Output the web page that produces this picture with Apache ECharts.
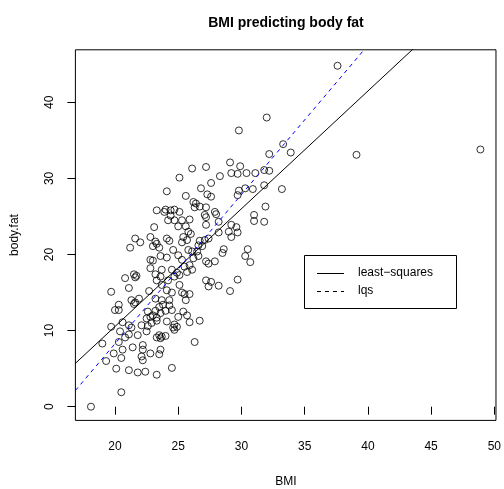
<!DOCTYPE html>
<html><head><meta charset="utf-8">
<script src="https://cdn.jsdelivr.net/npm/echarts@6/dist/echarts.min.js"></script>
<style>html,body{margin:0;padding:0;background:#fff}#c{width:504px;height:489px}</style>
</head><body><div id="c"></div>
<script>
// BMI values and matching body fat values
const bmi = [
29.8,26.1,27.2,29.1,29.9,
37.6,32.0,33.3,32.2,33.9,31.8,32.2,31.1,
30.9,31.8,33.2,31.9,31.0,31.0,31.8,30.7,
39.1,48.9,
23.3,23.9,23.1,21.6,22.0,21.2,22.8,23.2,23.0,23.3,23.5,23.6,22.8,23.0,22.8,23.7,23.2,23.6,23.3,21.5,21.7,21.6,20.8,23.7,
25.1,26.8,27.3,27.6,25.6,28.3,29.2,29.7,30.4,27.6,29.8,30.3,29.7,24.1,
26.2,26.4,26.7,26.3,27.2,27.9,28.0,27.1,27.2,
24.0,24.4,24.7,25.1,
24.4,24.2,24.7,25.3,25.9,27.2,28.2,
29.2,29.6,25.6,25.8,26.0,25.0,28.2,29.0,29.7,29.2,
24.1,24.3,25.4,25.7,25.3,26.7,27.1,27.4,26.6,26.9,
28.6,28.5,30.5,30.3,
24.6,25.8,26.1,26.5,24.1,25.0,25.3,26.2,26.6,
27.2,27.4,27.9,25.5,25.9,26.1,25.7,
24.5,24.9,25.1,24.7,24.2,27.2,27.6,29.7,25.1,
19.7,21.1,22.7,21.3,21.6,21.5,21.9,23.2,23.7,20.0,20.3,20.3,22.6,23.2,23.5,23.8,23.6,24.0,22.5,22.8,23.0,23.3,23.3,20.6,19.7,21.1,21.3,22.1,22.6,22.9,23.5,23.7,23.3,23.6,20.4,21.1,20.8,21.8,22.5,19.0,20.3,21.4,22.2,22.2,22.8,23.5,23.6,19.9,20.6,20.5,22.1,22.2,19.3,20.1,21.1,21.8,22.4,23.3,20.5,18.1,
27.4,28.2,29.1,24.1,24.5,25.3,25.5,25.9,25.6,24.3,24.3,24.5,25.4,25.7,25.9,25.0,26.7,24.1,24.7,24.9,24.6,24.7,24.0,26.3,24.5
];
const bodyFat = [
36.3,31.3,31.5,32.1,31.6,
44.8,38.0,34.5,33.2,33.4,31.1,31.0,30.7,
28.6,29.1,28.6,26.3,25.2,24.4,24.3,19.0,
33.1,33.8,
25.8,25.6,23.6,22.1,21.6,20.9,22.3,21.7,21.1,21.4,20.9,19.8,19.3,19.2,18.2,18.0,17.4,17.1,16.6,17.4,17.2,17.0,16.9,16.0,
30.1,28.7,27.9,27.6,27.7,30.3,30.7,30.6,30.7,29.4,28.4,28.7,27.8,28.3,
26.9,26.7,26.3,26.2,26.2,25.6,25.3,25.2,24.9,
25.9,25.8,25.9,25.6,
25.1,24.5,24.5,24.5,24.6,23.9,24.3,
23.9,23.6,23.7,23.0,22.7,23.7,22.9,23.0,22.9,22.3,
22.1,21.8,22.3,21.9,21.6,21.8,21.9,22.1,21.2,21.1,
20.7,20.2,20.7,19.8,
20.6,20.6,20.4,20.4,19.6,19.9,19.3,19.5,19.8,
19.1,18.8,19.1,18.4,18.6,18.0,17.7,
18.0,17.6,17.3,17.1,16.6,16.6,16.4,16.7,16.0,
15.1,15.6,15.2,14.0,13.7,13.5,14.2,14.2,14.0,12.7,12.7,13.4,12.5,12.6,13.1,13.4,12.3,12.6,11.6,11.8,12.0,11.7,11.3,11.1,10.5,10.7,10.4,10.7,10.6,11.0,9.4,9.2,9.1,9.0,9.9,9.5,9.1,9.4,9.9,8.3,8.5,7.8,8.1,7.5,7.0,6.9,7.5,7.0,7.5,6.4,6.6,6.1,6.0,5.0,4.8,4.5,4.6,4.2,1.9,0.0,
15.8,15.9,15.2,15.3,15.0,15.0,14.8,14.8,14.0,14.0,13.3,12.7,12.5,12.0,11.1,11.8,11.3,11.2,10.8,10.5,10.4,10.1,9.3,8.5,5.1
];
const xTicks = [20, 25, 30, 35, 40, 45, 50];
const yTicks = [0, 10, 20, 30, 40];
// fitted lines: [intercept, slope]
const leastSquares = [-20.40, 1.547];
const lqsFit = [-30.95, 1.961];

const xMin = 16.87, xMax = 50.13, yMin = -1.80, yMax = 46.90;
const pts = bmi.map((b, i) => [b, bodyFat[i]]);
const lineOf = c => [[xMin, c[0] + c[1] * xMin], [xMax, c[0] + c[1] * xMax]];

const FONT = 'Liberation Sans, Arial, Helvetica, sans-serif';
const chart = echarts.init(document.getElementById('c'), null, {renderer: 'canvas'});
chart.setOption({
  animation: false,
  backgroundColor: '#fff',
  grid: {left: 75.4, right: 7.6, top: 49.8, bottom: 68.6, show: true,
         borderColor: '#000', borderWidth: 1, backgroundColor: 'transparent'},
  xAxis: {type: 'value', min: xMin, max: xMax,
    axisLine: {show: false}, splitLine: {show: false},
    axisTick: {show: true, inside: false, length: 8, customValues: xTicks, lineStyle: {color: '#000', width: 1}},
    axisLabel: {customValues: xTicks, margin: 20, color: '#000', fontSize: 12, fontFamily: FONT}},
  yAxis: {type: 'value', min: yMin, max: yMax,
    axisLine: {show: false}, splitLine: {show: false},
    axisTick: {show: true, inside: false, length: 8, customValues: yTicks, lineStyle: {color: '#000', width: 1}},
    axisLabel: {customValues: yTicks, margin: 20, rotate: 90, color: '#000', fontSize: 12, fontFamily: FONT}},
  series: [
    {type: 'scatter', data: pts, symbol: 'circle', symbolSize: 7,
     itemStyle: {color: 'rgba(0,0,0,0)', borderColor: '#000', borderWidth: 1}, silent: true},
    {type: 'line', data: lineOf(leastSquares), symbol: 'none', clip: true,
     lineStyle: {color: '#000', width: 1, type: 'solid'}},
    {type: 'line', data: lineOf(lqsFit), symbol: 'none', clip: true,
     lineStyle: {color: '#0000ff', width: 1, type: [4, 4]}}
  ],
  graphic: [
    {type: 'text', x: 286, y: 23, style: {text: 'BMI predicting body fat', font: 'bold 14px ' + FONT, fill: '#000', textAlign: 'center', textVerticalAlign: 'middle'}},
    {type: 'text', x: 286, y: 482, style: {text: 'BMI', font: '12px ' + FONT, fill: '#000', textAlign: 'center', textVerticalAlign: 'middle'}},
    {type: 'text', x: 15, y: 235, rotation: Math.PI / 2, style: {text: 'body.fat', font: '12px ' + FONT, fill: '#000', textAlign: 'center', textVerticalAlign: 'middle'}},
    {type: 'rect', shape: {x: 304.5, y: 255.5, width: 152, height: 53}, style: {fill: '#fff', stroke: '#000', lineWidth: 1}},
    {type: 'line', shape: {x1: 317, y1: 273.5, x2: 344, y2: 273.5}, style: {stroke: '#000', lineWidth: 1}},
    {type: 'line', shape: {x1: 317, y1: 291.5, x2: 344, y2: 291.5}, style: {stroke: '#000', lineWidth: 1, lineDash: [4, 4]}},
    {type: 'text', x: 358, y: 273, style: {text: 'least\u2212squares', font: '12px ' + FONT, fill: '#000', textAlign: 'left', textVerticalAlign: 'middle'}},
    {type: 'text', x: 358, y: 291, style: {text: 'lqs', font: '12px ' + FONT, fill: '#000', textAlign: 'left', textVerticalAlign: 'middle'}}
  ]
});
</script></body></html>
